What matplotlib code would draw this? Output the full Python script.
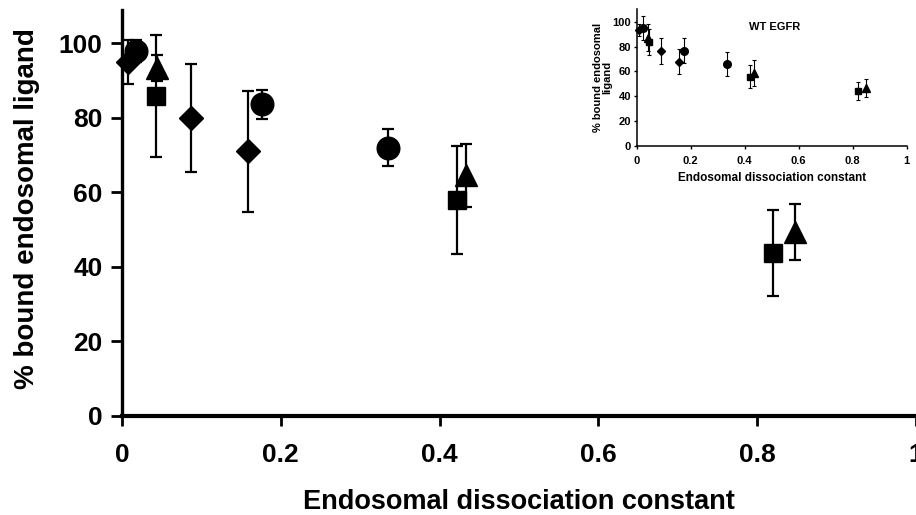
"""
    Bound endosomal ligand vs endosomal dissociation constant (with WT EGFR inset)
"""

import numpy as np
import matplotlib
matplotlib.use('Agg')
import matplotlib.pyplot as plt

plt.rcParams['font.family'] = ['Liberation Sans', 'DejaVu Sans']
plt.rcParams['font.weight'] = 'bold'

# main panel: (x, y, err) per marker type
diamond_x = [0.007, 0.087, 0.159]
diamond_y = [95.0, 80.0, 71.0]
diamond_e = [6.0, 14.5, 16.3]

circle_x = [0.018, 0.176, 0.335]
circle_y = [98.0, 83.6, 72.0]
circle_e = [3.0, 3.8, 5.0]

square_x = [0.043, 0.422, 0.820]
square_y = [86.0, 58.0, 43.7]
square_e = [16.4, 14.5, 11.6]

triangle_x = [0.044, 0.433, 0.848]
triangle_y = [93.5, 64.6, 49.3]
triangle_e = [3.5, 8.5, 7.6]

# inset (WT EGFR)
in_diamond_x = [0.010, 0.089, 0.158]
in_diamond_y = [93.3, 76.4, 67.7]
in_diamond_e = [5.0, 10.5, 10.0]

in_circle_x = [0.022, 0.175, 0.333]
in_circle_y = [94.7, 76.6, 65.9]
in_circle_e = [9.8, 10.0, 10.0]

in_square_x = [0.045, 0.420, 0.818]
in_square_y = [84.0, 55.7, 44.1]
in_square_e = [10.5, 9.5, 7.0]

in_triangle_x = [0.043, 0.434, 0.849]
in_triangle_y = [87.0, 58.4, 46.3]
in_triangle_e = [11.0, 10.5, 7.4]

ticks_x = [0, 0.2, 0.4, 0.6, 0.8, 1.0]
ticklabels_x = ['0', '0.2', '0.4', '0.6', '0.8', '1']
ticks_y = [0, 20, 40, 60, 80, 100]

fig = plt.figure(figsize=(9.16, 5.15), dpi=100)
ax = fig.add_axes([0.1332, 0.1932, 0.8668, 0.7874])

series = [
    (diamond_x, diamond_y, diamond_e, 'D', 12.7),
    (circle_x, circle_y, circle_e, 'o', 16.3),
    (square_x, square_y, square_e, 's', 13.3),
    (triangle_x, triangle_y, triangle_e, '^', 15.5),
]
for x, y, e, m, ms in series:
    ax.errorbar(x, y, yerr=e, fmt=m, color='black', ms=ms, elinewidth=1.6,
                capsize=4, capthick=1.6, clip_on=False)

ax.set_xlim(0, 1)
ax.set_ylim(0, 109)
ax.set_xticks(ticks_x)
ax.set_xticklabels(ticklabels_x)
ax.set_yticks(ticks_y)
ax.spines['top'].set_visible(False)
ax.spines['right'].set_visible(False)
ax.spines['left'].set_linewidth(2.4)
ax.spines['bottom'].set_linewidth(3.0)
ax.tick_params(axis='x', length=7, width=2, pad=13, labelsize=19)
ax.tick_params(axis='y', length=8, width=2, pad=6, labelsize=19)
ax.set_xlabel('Endosomal dissociation constant', fontsize=19.5, fontweight='bold')
ax.set_ylabel('% bound endosomal ligand', fontsize=20, fontweight='bold')
ax.xaxis.set_label_coords(0.5, -0.182)
ax.yaxis.set_label_coords(-0.103, 0.51)

# inset
ins = fig.add_axes([0.6951, 0.7171, 0.2948, 0.2648])
in_series = [
    (in_diamond_x, in_diamond_y, in_diamond_e, 'D', 4.0),
    (in_circle_x, in_circle_y, in_circle_e, 'o', 5.5),
    (in_square_x, in_square_y, in_square_e, 's', 4.8),
    (in_triangle_x, in_triangle_y, in_triangle_e, '^', 5.5),
]
for x, y, e, m, ms in in_series:
    ins.errorbar(x, y, yerr=e, fmt=m, color='black', ms=ms, elinewidth=0.8,
                 capsize=1.5, capthick=0.8, clip_on=False)
ins.set_xlim(0, 1)
ins.set_ylim(0, 110)
ins.set_xticks(ticks_x)
ins.set_xticklabels(ticklabels_x)
ins.set_yticks(ticks_y)
ins.spines['top'].set_visible(False)
ins.spines['right'].set_visible(False)
ins.spines['left'].set_linewidth(1.1)
ins.spines['bottom'].set_linewidth(1.1)
ins.tick_params(axis='both', length=2.5, width=1, pad=1.5, labelsize=8)
ins.tick_params(axis='x', pad=5)
ins.set_xlabel('Endosomal dissociation constant', fontsize=8.5, fontweight='bold', labelpad=4)
ins.set_ylabel('% bound endosomal\nligand', fontsize=8, fontweight='bold', labelpad=0.5,
               linespacing=0.9)
ins.text(0.415, 0.85, 'WT EGFR', transform=ins.transAxes, fontsize=8, fontweight='bold')
ins.patch.set_alpha(0)

plt.savefig('out.png', dpi=100)
plt.close()
